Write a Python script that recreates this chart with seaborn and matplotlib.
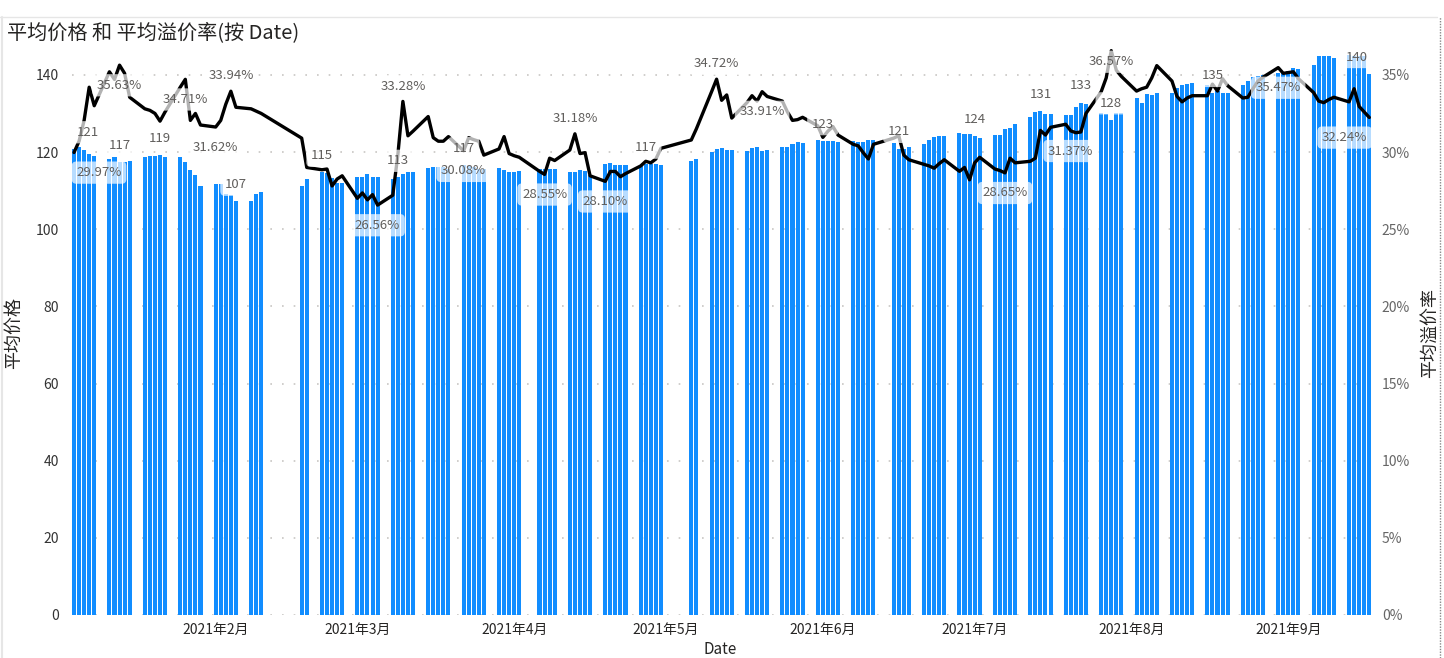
import matplotlib
matplotlib.use("Agg")
import matplotlib.pyplot as plt
import matplotlib.dates as mdates
from matplotlib.lines import Line2D
from matplotlib.ticker import FuncFormatter, MultipleLocator
import numpy as np
import pandas as pd
import seaborn as sns

# 交易日（去掉周末和节假日）
holidays = ["2021-02-11", "2021-02-12", "2021-02-15", "2021-02-16", "2021-02-17",
            "2021-04-05", "2021-05-03", "2021-05-04", "2021-05-05", "2021-06-14"]
dates = pd.bdate_range("2021-01-04", "2021-09-17")
dates = dates[~dates.isin(pd.to_datetime(holidays))]

# 平均价格
avg_price = [
    120.8, 121.2, 120.5, 119.6, 118.9, 118.3, 118.7, 117.4, 117.4, 117.7,
    118.7, 118.9, 118.9, 119.3, 118.7, 118.6, 117.3, 115.3, 114.1, 111.2,
    # 2月
    111.7, 111.7, 109.1, 108.9, 107.2, 107.2, 109.1, 109.7, 111.2, 112.9,
    114.7, 114.5, 113.2, 112.1, 112.1,
    # 3月
    113.4, 113.4, 114.2, 113.6, 113.6, 112.9, 113.4, 114.3, 114.8, 114.8,
    115.8, 116.0, 116.2, 116.0, 115.5, 116.7, 116.4, 116.0, 115.5, 115.5,
    115.8, 115.3, 114.8,
    # 4月
    114.8, 115.1, 115.7, 115.5, 115.5, 115.5, 114.7, 114.9, 115.3, 115.1,
    114.1, 116.8, 117.1, 116.7, 116.7, 116.7, 116.7, 116.8, 116.8, 116.8,
    116.7,
    # 5月
    117.8, 118.1, 120.0, 120.7, 121.0, 120.5, 120.6, 120.3, 121.0, 121.2,
    120.3, 120.6, 121.2, 121.3, 122.0, 122.6, 122.4, 123.1,
    # 6月
    122.9, 122.9, 122.9, 122.7, 122.9, 122.7, 122.7, 123.1, 123.1, 122.3,
    120.9, 120.9, 121.4, 122.2, 123.1, 124.0, 124.2, 124.2, 125.0, 124.6,
    124.6,
    # 7月
    124.2, 123.6, 124.4, 124.4, 125.9, 126.3, 127.2, 129.1, 130.5, 130.7,
    129.8, 129.8, 129.6, 129.6, 131.8, 132.8, 132.5, 130.2, 129.9, 128.3,
    130.2, 130.2,
    # 8月
    134.0, 132.8, 135.0, 134.8, 135.2, 135.4, 136.7, 137.4, 137.6, 137.8,
    137.4, 135.4, 135.7, 135.4, 135.2, 137.4, 138.4, 139.5, 139.7, 139.9,
    140.6, 140.6,
    # 9月
    141.0, 141.9, 141.5, 142.6, 144.8, 145.0, 145.0, 144.5, 145.1, 145.0,
    144.9, 144.9, 140.3,
]

# 平均溢价率 (%)
avg_premium = [
    29.97, 30.7, 32.05, 34.2, 33.0, 35.2, 34.7, 35.63, 35.1, 33.55,
    32.8, 32.7, 32.5, 32.0, 32.6, 34.2, 34.71, 32.05, 32.5, 31.75,
    # 2月
    31.62, 32.05, 33.1, 33.94, 32.9, 32.8, 32.65, 32.5, 30.9, 29.0,
    28.85, 28.9, 27.8, 28.25, 28.46,
    # 3月
    27.0, 27.35, 26.9, 27.24, 26.56, 27.2, 29.8, 33.28, 31.05, 31.35,
    32.3, 30.93, 30.7, 30.7, 31.0, 30.08, 30.93, 30.8, 30.7, 29.8,
    30.2, 31.0, 29.9,
    # 4月
    29.76, 29.66, 28.75, 28.55, 29.6, 29.45, 30.13, 31.18, 29.9, 29.96,
    28.46, 28.10, 28.74, 28.74, 28.4, 28.6, 29.1, 29.4, 29.3, 29.55,
    30.24,
    # 5月
    30.78, 31.5, 33.9, 34.72, 33.35, 33.7, 32.2, 33.2, 33.65, 33.3,
    33.91, 33.6, 33.3, 32.6, 32.05, 32.1, 32.25, 31.7,
    # 6月
    30.95, 31.35, 31.65, 31.1, 30.5, 30.4, 29.95, 29.55, 30.5, 30.9,
    31.06, 29.8, 29.5, 29.2, 29.1, 28.95, 29.25, 29.5, 28.75, 29.0,
    28.2,
    # 7月
    29.3, 29.66, 28.9, 28.8, 28.65, 29.6, 29.3, 29.4, 29.6, 31.4,
    31.1, 31.6, 31.8, 31.37, 31.25, 31.3, 32.5, 33.9, 34.8, 36.57,
    35.3, 34.9,
    # 8月
    33.95, 34.1, 34.2, 34.8, 35.6, 34.6, 33.6, 33.25, 33.5, 33.65,
    33.65, 34.4, 33.95, 34.75, 34.3, 33.5, 33.55, 34.1, 34.6, 34.85,
    35.47, 35.1,
    # 9月
    35.15, 35.2, 34.75, 33.85, 33.3, 33.2, 33.4, 33.55, 33.25, 34.1,
    32.95, 32.6, 32.24,
]

bar_label_dates = ["2021-01-04", "2021-01-13", "2021-01-21", "2021-02-05",
                   "2021-02-22", "2021-03-09", "2021-03-22", "2021-04-27",
                   "2021-06-01", "2021-06-16", "2021-07-01", "2021-07-14",
                   "2021-07-22", "2021-07-28", "2021-08-17", "2021-09-17"]
line_label_dates = ["2021-01-04", "2021-01-13", "2021-01-26", "2021-02-01",
                    "2021-02-04", "2021-03-05", "2021-03-10", "2021-03-22",
                    "2021-04-07", "2021-04-13", "2021-04-19", "2021-05-11",
                    "2021-05-20", "2021-07-07", "2021-07-20", "2021-07-28",
                    "2021-08-30", "2021-09-17"]

# 样式：线标签默认在点下方，这几个在上方
line_label_above = {"2021-02-04", "2021-03-10", "2021-04-13", "2021-05-11"}
line_label_close = {"2021-07-28"}

df = pd.DataFrame({"Date": dates, "price": avg_price, "premium": avg_premium})
df["x"] = mdates.date2num(df["Date"])

sns.set_style("white")
plt.rcParams["font.family"] = ["Noto Sans CJK SC", "DejaVu Sans"]

W, H = 1444, 658
fig = plt.figure(figsize=(W / 100, H / 100), dpi=100)

x_first = df["x"].iloc[0] - 0.45
x_last = df["x"].iloc[-1] + 0.55
px_day = (1369.3 - 74) / (df["x"].iloc[-1] - df["x"].iloc[0])
left_px = 74 - 0.45 * px_day
right_px = 1369.3 + 0.55 * px_day
ymax = 148
ax = fig.add_axes([left_px / W, 43 / H, (right_px - left_px) / W, 571 / H])

sns.barplot(data=df, x="x", y="price", native_scale=True, width=0.8,
            color="#118DFF", saturation=1, errorbar=None, linewidth=0, ax=ax)

ax2 = ax.twinx()
sns.lineplot(data=df, x="x", y="premium", color="black", linewidth=2.4, ax=ax2)

ax.set_xlim(x_first, x_last)
ax.set_ylim(0, ymax)
ax2.set_ylim(0, ymax / 4)

ax.yaxis.set_major_locator(MultipleLocator(20))
ax2.yaxis.set_major_locator(MultipleLocator(5))
ax2.yaxis.set_major_formatter(FuncFormatter(lambda v, p: f"{v:.0f}%"))

months = pd.date_range("2021-02-01", "2021-09-01", freq="MS")
ax.set_xticks(mdates.date2num(months))
ax.set_xticklabels([f"{m.year}年{m.month}月" for m in months])

ax.grid(axis="y", color="#C8C6C4", linestyle=(0, (1, 6)), linewidth=1.2)
ax.grid(axis="x", visible=False)
ax.set_axisbelow(True)
for a in (ax, ax2):
    for s in a.spines.values():
        s.set_visible(False)
    a.set_xlabel("")
    a.set_ylabel("")
ax.tick_params(axis="y", length=0, pad=9, labelsize=10, labelcolor="#333333")
ax.tick_params(axis="x", length=0, pad=6, labelsize=10, labelcolor="#252423")
ax2.tick_params(axis="y", length=0, pad=7, labelsize=10, labelcolor="#666666")

label_box = dict(boxstyle="round,pad=0.35", fc="white", ec="none", alpha=0.7)
labels = []
for d in bar_label_dates:
    row = df[df["Date"] == pd.Timestamp(d)].iloc[0]
    t = ax2.annotate(f"{row['price']:.0f}", xy=(row["x"], row["price"]),
                     xycoords=ax.transData, xytext=(0, 12), textcoords="offset points",
                     ha="center", va="center", fontsize=9.5, color="#605E5C",
                     bbox=label_box, zorder=10, annotation_clip=False)
    labels.append(t)
for d in line_label_dates:
    row = df[df["Date"] == pd.Timestamp(d)].iloc[0]
    dy = 11 if d in line_label_above else (-8 if d in line_label_close else -14.5)
    t = ax2.annotate(f"{row['premium']:.2f}%", xy=(row["x"], row["premium"]),
                     xytext=(0, dy), textcoords="offset points",
                     ha="center", va="center", fontsize=9.5, color="#605E5C",
                     bbox=label_box, zorder=10, annotation_clip=False)
    labels.append(t)

# 标签不超出绘图区
fig.canvas.draw()
renderer = fig.canvas.get_renderer()
axbb = ax.get_window_extent(renderer)
for t in labels:
    bb = t.get_bbox_patch().get_window_extent(renderer)
    shift = 0
    if bb.x0 < axbb.x0:
        shift = axbb.x0 - bb.x0
    elif bb.x1 > axbb.x1:
        shift = axbb.x1 - bb.x1
    if shift:
        dx, dy = t.xyann
        t.xyann = (dx + shift * 72 / fig.dpi, dy)

fig.text(7 / W, 1 - 33 / H, "平均价格 和 平均溢价率(按 Date)", fontsize=14.5,
         ha="left", va="center", color="#252423")
fig.text(14 / W, 1 - 333 / H, "平均价格", fontsize=13, rotation=90,
         ha="center", va="center", color="#252423")
fig.text(1430 / W, 1 - 333 / H, "平均溢价率", fontsize=13, rotation=90,
         ha="center", va="center", color="#252423")
fig.text(720 / W, 1 - 650 / H, "Date", fontsize=11, ha="center", va="center",
         color="#252423")

# 视觉对象边框
fig.add_artist(Line2D([0, 1437 / W], [1 - 17 / H, 1 - 17 / H], color="#E6E6E6",
                      linewidth=1, transform=fig.transFigure))
fig.add_artist(Line2D([1.5 / W, 1.5 / W], [0, 1 - 17 / H], color="#E6E6E6",
                      linewidth=1.5, transform=fig.transFigure))
fig.add_artist(Line2D([1440 / W, 1440 / W], [0, 1 - 17 / H], color="#888888",
                      linewidth=1, linestyle=(0, (1, 1)), transform=fig.transFigure))

fig.savefig("out.png", dpi=100)
